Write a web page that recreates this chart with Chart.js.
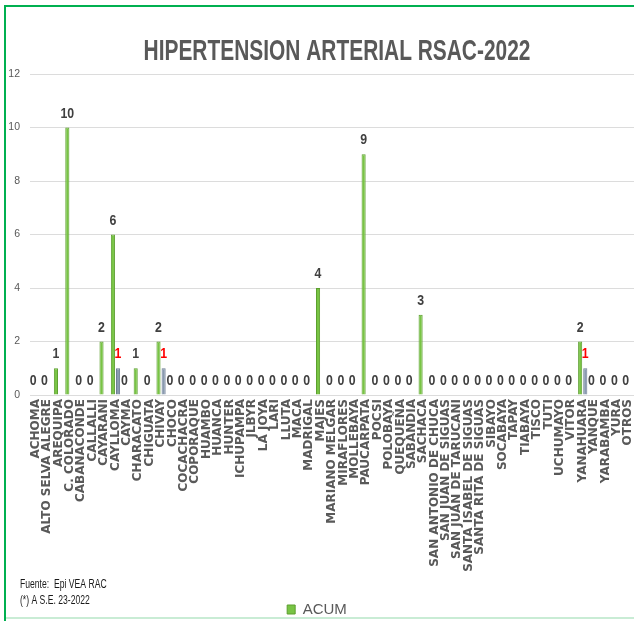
<!DOCTYPE html>
<html>
<head>
<meta charset="utf-8">
<script src="https://cdn.jsdelivr.net/npm/chart.js@4.4.1/dist/chart.umd.min.js"></script>
<style>
  html, body { margin: 0; padding: 0; background: #ffffff; overflow: hidden; }
  #wrap { position: relative; width: 634px; height: 621px; }
</style>
</head>
<body>
<div id="wrap"><canvas id="chart" width="634" height="621"></canvas></div>
<script>
// Districts of the health network (x-axis categories)
const districts = [
  'ACHOMA', 'ALTO SELVA ALEGRE', 'AREQUIPA', 'C. COLORADO', 'CABANACONDE', 'CALLALLI',
  'CAYARANI', 'CAYLLOMA', 'CAYMA', 'CHARACATO', 'CHIGUATA', 'CHIVAY', 'CHOCO',
  'COCACHACRA', 'COPORAQUE', 'HUAMBO', 'HUANCA', 'HUNTER', 'ICHUPAMPA', 'JLBYR',
  'LA JOYA', 'LARI', 'LLUTA', 'MACA', 'MADRIGAL', 'MAJES', 'MARIANO MELGAR',
  'MIRAFLORES', 'MOLLEBAYA', 'PAUCARPATA', 'POCSI', 'POLOBAYA', 'QUEQUEÑA', 'SABANDIA',
  'SACHACA', 'SAN ANTONIO DE CHUCA', 'SAN JUAN DE SIGUAS', 'SAN JUAN DE TARUCANI',
  'SANTA ISABEL DE SIGUAS', 'SANTA RITA DE SIGUAS', 'SIBAYO', 'SOCABAYA', 'TAPAY',
  'TIABAYA', 'TISCO', 'TUTI', 'UCHUMAYO', 'VITOR', 'YANAHUARA', 'YANQUE', 'YARABAMBA',
  'YURA', 'OTROS'
];

// Accumulated cases per district
const acum = [
  0, 0, 1, 10, 0, 0,
  2, 6, 0, 1, 0, 2, 0,
  0, 0, 0, 0, 0, 0, 0,
  0, 0, 0, 0, 0, 4, 0,
  0, 0, 9, 0, 0, 0, 0,
  3, 0, 0, 0,
  0, 0, 0, 0, 0,
  0, 0, 0, 0, 0, 2, 0, 0,
  0, 0
];

// Cases reported in the current epidemiological week
const semana = [
  0, 0, 0, 0, 0, 0,
  0, 1, 0, 0, 0, 1, 0,
  0, 0, 0, 0, 0, 0, 0,
  0, 0, 0, 0, 0, 0, 0,
  0, 0, 0, 0, 0, 0, 0,
  0, 0, 0, 0,
  0, 0, 0, 0, 0,
  0, 0, 0, 0, 0, 1, 0, 0,
  0, 0
];

const yTickValues = [0, 2, 4, 6, 8, 10, 12];

const chartTitle = 'HIPERTENSION ARTERIAL RSAC-2022';
const footNotes = ['Fuente:  Epi VEA RAC', '(*) A S.E. 23-2022'];

const SANS = '"Liberation Sans", Arial, sans-serif';

// Draws text with a condensed horizontal scale and a taller vertical scale
function condensedText(ctx, text, x, y, sx, sy) {
  ctx.save();
  ctx.translate(x, y);
  ctx.scale(sx, sy);
  ctx.fillText(text, 0, 0);
  ctx.restore();
}

// Value labels above each bar
const valueLabels = {
  id: 'valueLabels',
  afterDatasetsDraw(chart) {
    const ctx = chart.ctx;
    ctx.save();
    ctx.font = 'bold 14.5px ' + SANS;
    ctx.textAlign = 'center';
    ctx.textBaseline = 'middle';
    chart.data.datasets.forEach((ds, i) => {
      const meta = chart.getDatasetMeta(i);
      meta.data.forEach((bar, j) => {
        const v = ds.data[j];
        if (i === 1 && !v) return;
        ctx.fillStyle = i === 0 ? '#404040' : '#ff0000';
        condensedText(ctx, String(v), bar.x, bar.y - 14, 0.85, 1);
      });
    });
    ctx.restore();
  }
};

// Frame, title, footnotes and spaced lettering for the category axis
const decorations = {
  id: 'decorations',
  beforeDraw(chart) {
    const ctx = chart.ctx;
    ctx.save();
    ctx.fillStyle = '#ffffff';
    ctx.fillRect(0, 0, chart.width, chart.height);
    ctx.restore();
    ctx.letterSpacing = '0px';
  },
  afterDatasetsDraw(chart) {
    // the x axis (z = 1) is drawn after this hook
    chart.ctx.letterSpacing = '1px';
  },
  afterDraw(chart) {
    const ctx = chart.ctx;
    ctx.letterSpacing = '0px';
    ctx.save();
    // green frame
    ctx.fillStyle = '#00b050';
    ctx.fillRect(4, 5, chart.width - 4, 2);
    ctx.fillRect(4, 5, 2, chart.height - 5);
    ctx.fillStyle = '#c9ecd5';
    ctx.fillRect(6, 617, chart.width - 6, 2);

    // title
    ctx.fillStyle = '#595959';
    ctx.font = 'bold 25.5px ' + SANS;
    ctx.textAlign = 'center';
    ctx.textBaseline = 'alphabetic';
    condensedText(ctx, chartTitle, 337, 60, 0.82, 1.19);

    // footnotes
    ctx.fillStyle = '#1a1a1a';
    ctx.font = '10.5px ' + SANS;
    ctx.textAlign = 'left';
    footNotes.forEach((t, i) => condensedText(ctx, t, 20, 588 + i * 16, 0.82, 1.25));
    ctx.restore();
  }
};

new Chart(document.getElementById('chart'), {
  type: 'bar',
  data: {
    labels: districts,
    datasets: [
      {
        label: 'ACUM',
        data: acum,
        backgroundColor: '#78c444',
        borderColor: '#5c9f2e',
        borderWidth: 1,
        borderSkipped: 'bottom',
        categoryPercentage: 0.9,
        barPercentage: 0.8
      },
      {
        label: 'S.E. 23',
        data: semana,
        backgroundColor: '#8a9ab0',
        borderColor: '#6e7e94',
        borderWidth: 1,
        borderSkipped: 'bottom',
        categoryPercentage: 0.9,
        barPercentage: 0.8
      }
    ]
  },
  options: {
    responsive: false,
    devicePixelRatio: 1,
    animation: false,
    layout: { padding: { top: 74, left: 0, right: 0, bottom: -6 } },
    plugins: {
      title: { display: false },
      tooltip: { enabled: false },
      legend: {
        display: true,
        position: 'bottom',
        labels: {
          filter: (item) => item.datasetIndex === 0,
          font: { family: SANS, size: 15 },
          color: '#595959',
          boxWidth: 8,
          boxHeight: 9,
          padding: 6
        }
      }
    },
    scales: {
      x: {
        z: 1,
        offset: true,
        grid: { display: false, drawTicks: false },
        border: { display: false },
        ticks: {
          autoSkip: false,
          maxRotation: 90,
          minRotation: 90,
          padding: 4,
          color: '#595959',
          font: { family: '"DejaVu Sans", Verdana, sans-serif', weight: 'bold', size: 12 }
        },
        afterFit(scale) {
          scale.height = 201;
          scale.paddingLeft = 0;
          scale.paddingRight = 0;
        }
      },
      y: {
        min: 0,
        max: 12,
        afterBuildTicks(scale) { scale.ticks = yTickValues.map(v => ({ value: v })); },
        grid: { color: '#dcdcdc', lineWidth: 1, drawTicks: false },
        border: { display: false },
        ticks: {
          padding: 10,
          color: '#595959',
          font: { family: SANS, size: 10.5 }
        },
        afterFit(scale) { scale.width = 30; }
      }
    }
  },
  plugins: [valueLabels, decorations]
});
</script>
</body>
</html>
